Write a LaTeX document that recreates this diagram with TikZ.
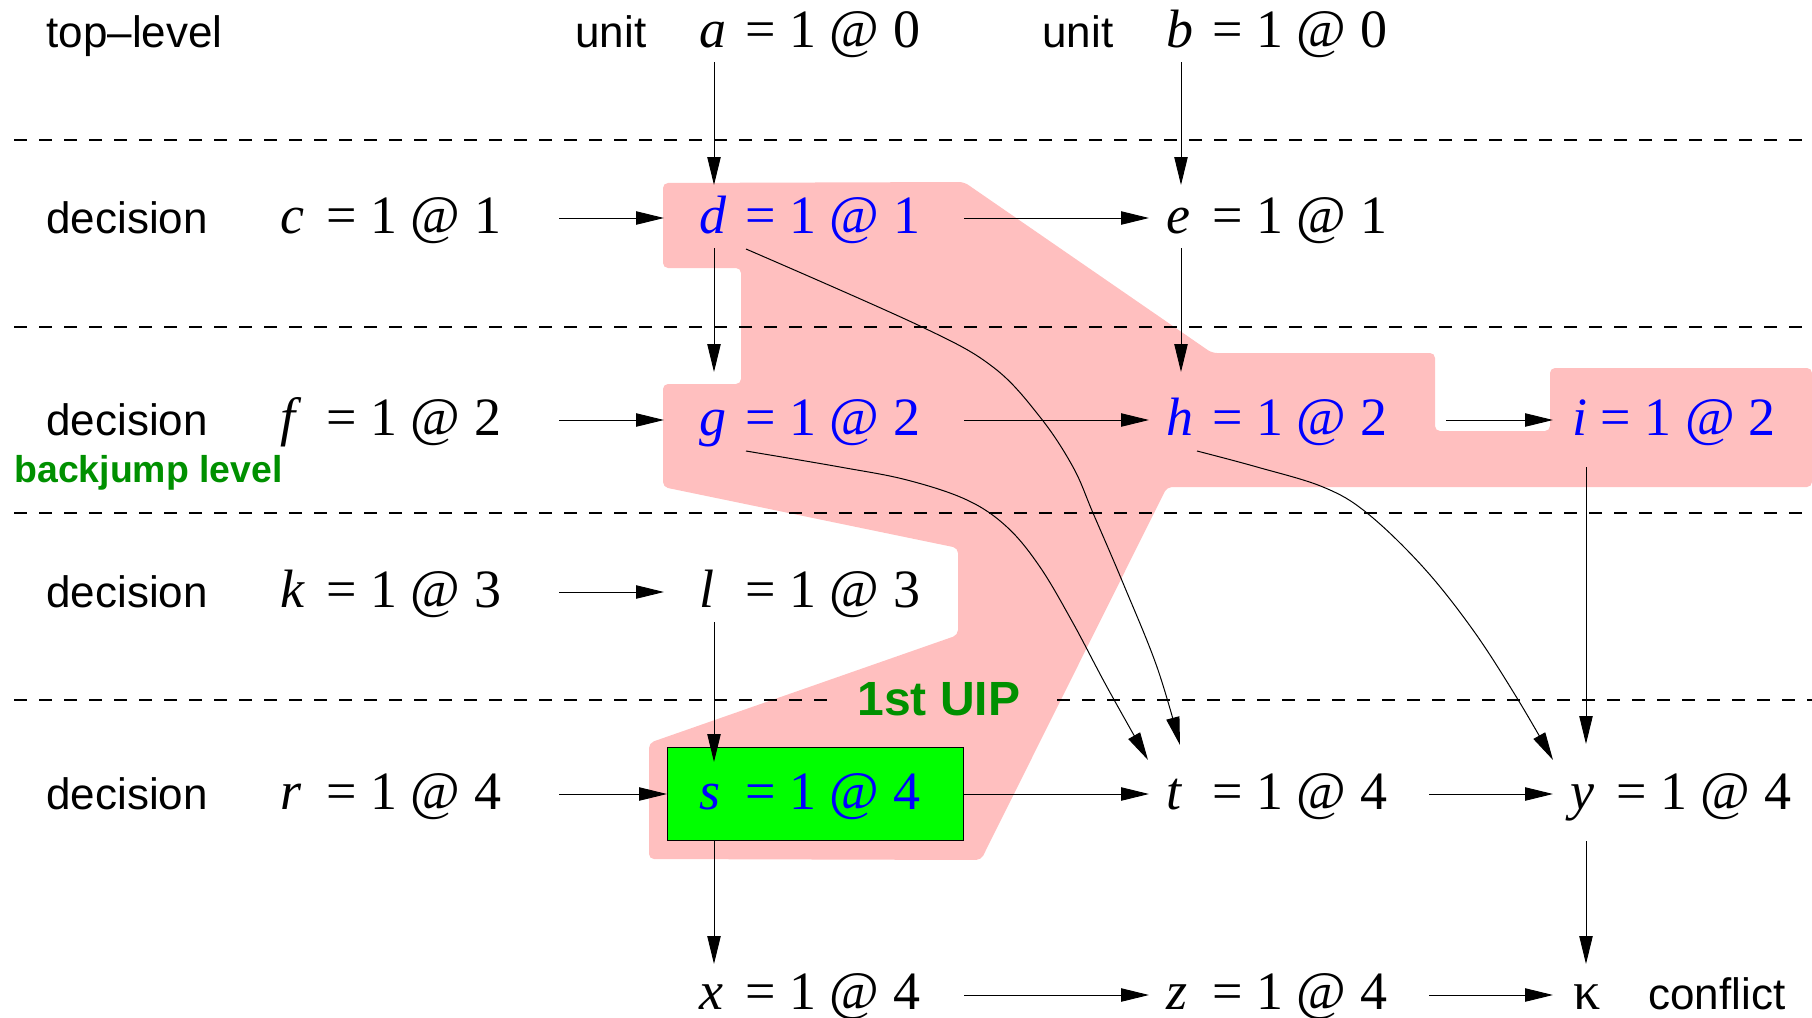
\documentclass[tikz,border=0pt]{standalone}
\usepackage{fontspec}
\setmainfont{Liberation Serif}
\setsansfont{Liberation Sans}
\usetikzlibrary{arrows.meta,calc}
\definecolor{uippink}{RGB}{255,191,191}
\definecolor{uipgreen}{RGB}{0,255,0}
\definecolor{darkgr}{RGB}{0,144,0}
\definecolor{pureblue}{RGB}{0,0,255}
\newcommand\vv[2]{\makebox[23pt][l]{\textit{#1}}= 1 @ #2}
\begin{document}
\begin{tikzpicture}[x=0.5pt,y=-0.5pt,
  var/.style={anchor=base west, inner sep=0pt, font=\fontsize{27pt}{32pt}\selectfont},
  impl/.style={var, text=pureblue},
  lab/.style={anchor=base west, inner sep=0pt, font=\sffamily\fontsize{22pt}{26pt}\selectfont},
  glab/.style={anchor=base west, inner sep=0pt, text=darkgr, font=\sffamily\bfseries\fontsize{#1}{#1}\selectfont},
  arr/.style={-{Triangle[length=14pt,width=6.7pt]}, line width=0.5pt},
  levelsep/.style={line width=0.75pt, dash pattern=on 6.25pt off 6.25pt},
  region/.style={fill=uippink, rounded corners=2.5pt},
  uipbox/.style={draw, fill=uipgreen, line width=0.6pt, inner sep=0pt, anchor=north west, minimum width=148pt, minimum height=46.5pt}]
\useasboundingbox (0,0) rectangle (1812,1018);

% conflict side region
\path[region] (663,183) -- (964,182) -- (1212,353) -- (1435,353) -- (1435,431) -- (1550,431) -- (1550,368) -- (1812,368) -- (1812,487) -- (1167,487) -- (981,860) -- (649,859) -- (649,743) -- (958,635) -- (958,548) -- (663,487) -- (663,384) -- (741,384) -- (741,268) -- (663,268) -- cycle;

% level separators
\draw[levelsep] (14,140) -- (1812,140);
\draw[levelsep] (14,327) -- (1812,327);
\draw[levelsep] (14,513) -- (1812,513);
\draw[levelsep] (14,700) -- (838,700);
\draw[levelsep] (1057,700) -- (1812,700);

% UIP box
\node[uipbox] (sbox) at (667,747) {};

% labels
\node[lab] (toplevel) at (46,47) {top–level};
\node[lab] (unita) at (575,47) {unit};
\node[lab] (unitb) at (1042,47) {unit};
\node[lab] (dec1) at (46,233) {decision};
\node[lab] (dec2) at (46,435) {decision};
\node[lab] (dec3) at (46,607) {decision};
\node[lab] (dec4) at (46,809) {decision};
\node[lab] (conflict) at (1648,1009) {conflict};
\node[glab=18.7pt] (backjump) at (14,482) {backjump level};
\node[glab=24pt] (uiplabel) at (857,715) {1st UIP};

% assignments
\node[var] (a) at (699,47) {\vv{a}{0}};
\node[var] (b) at (1166,47) {\vv{b}{0}};
\node[var] (c) at (280,233) {\vv{c}{1}};
\node[impl] (d) at (699,233) {\vv{d}{1}};
\node[var] (e) at (1166,233) {\vv{e}{1}};
\node[var] (f) at (280,435) {\vv{f}{2}};
\node[impl] (g) at (699,435) {\vv{g}{2}};
\node[impl] (h) at (1166,435) {\vv{h}{2}};
\node[impl] (i) at (1572,435) {\textit{i} = 1 @ 2};
\node[var] (k) at (280,607) {\vv{k}{3}};
\node[var] (l) at (699,607) {\vv{l}{3}};
\node[var] (r) at (280,809) {\vv{r}{4}};
\node[impl] (s) at (699,809) {\vv{s}{4}};
\node[var] (t) at (1166,809) {\vv{t}{4}};
\node[var] (y) at (1570,809) {\vv{y}{4}};
\node[var] (x) at (699,1009) {\vv{x}{4}};
\node[var] (z) at (1166,1009) {\vv{z}{4}};
\node[var] (kappa) at (1573,1009) {κ};

% horizontal implications
\draw[arr] ($(c.base west)+(279,-15)$) -- ($(d.base west)+(-35,-15)$);
\draw[arr] ($(f.base west)+(279,-15)$) -- ($(g.base west)+(-35,-15)$);
\draw[arr] ($(k.base west)+(279,-15)$) -- ($(l.base west)+(-35,-15)$);
\draw[arr] ($(r.base west)+(279,-15)$) -- ($(sbox.north west)+(0,47)$);
\draw[arr] ($(d.base west)+(265,-15)$) -- ($(e.base west)+(-17,-15)$);
\draw[arr] ($(g.base west)+(265,-15)$) -- ($(h.base west)+(-17,-15)$);
\draw[arr] ($(sbox.north east)+(0,47)$) -- ($(t.base west)+(-17,-15)$);
\draw[arr] ($(x.base west)+(265,-14)$) -- ($(z.base west)+(-17,-14)$);
\draw[arr] ($(h.base west)+(280,-15)$) -- ($(i.base west)+(-19,-15)$);
\draw[arr] ($(t.base west)+(263,-15)$) -- ($(y.base west)+(-17,-15)$);
\draw[arr] ($(z.base west)+(263,-14)$) -- ($(kappa.base west)+(-20,-14)$);

% vertical implications
\draw[arr] ($(a.base west)+(15,15)$) -- ($(d.base west)+(15,-48)$);
\draw[arr] ($(b.base west)+(15,15)$) -- ($(e.base west)+(15,-48)$);
\draw[arr] ($(d.base west)+(15,15)$) -- ($(g.base west)+(15,-63)$);
\draw[arr] ($(e.base west)+(15,15)$) -- ($(h.base west)+(15,-63)$);
\draw[arr] ($(l.base west)+(15,15)$) -- ($(sbox.north west)+(47,15)$);
\draw[arr] ($(sbox.south west)+(47,0)$) -- ($(x.base west)+(15,-45)$);
\draw[arr] ($(i.base west)+(14,32)$) -- ($(y.base west)+(16,-65)$);
\draw[arr] ($(y.base west)+(16,32)$) -- ($(kappa.base west)+(13,-45)$);

% curved implications
\draw[arr] plot[smooth, tension=0.6] coordinates {($(d.base west)+(47,16)$) (920,326) (993,367) (1040,417) (1073,467) (1093,513) (1123,583) (1157,667) ($(t.base west)+(14,-64)$)};
\draw[arr] plot[smooth, tension=0.6] coordinates {($(g.base west)+(47,16)$) (840,467) (907,480) (967,500) (1007,527) (1040,567) (1073,623) (1107,687) ($(t.base west)+(-18,-49)$)};
\draw[arr] plot[smooth, tension=0.6] coordinates {($(h.base west)+(31,16)$) (1257,467) (1323,487) (1367,513) (1423,567) (1473,630) (1517,698) ($(y.base west)+(-17,-49)$)};
\end{tikzpicture}
\end{document}
